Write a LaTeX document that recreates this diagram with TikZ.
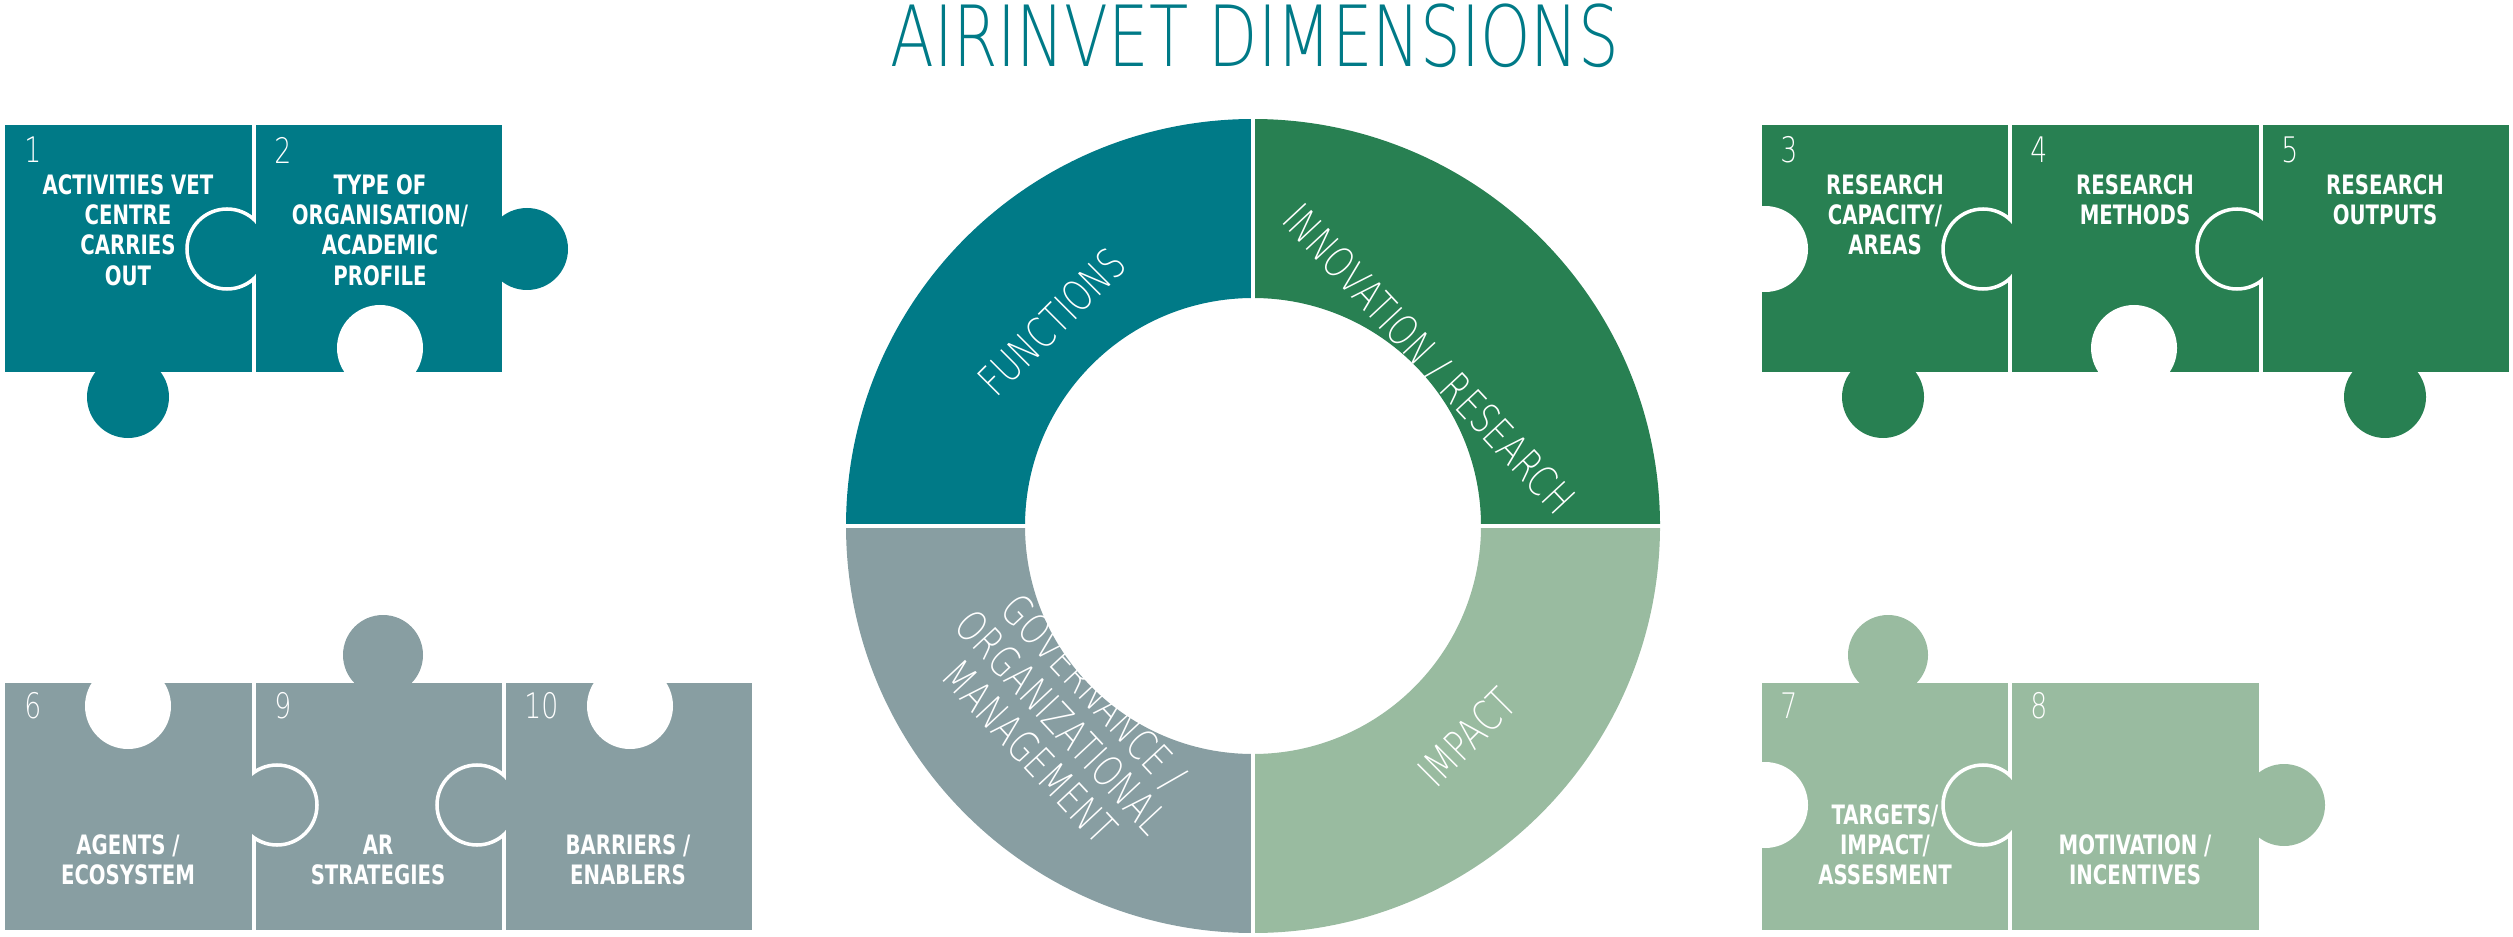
\documentclass[tikz,border=0pt]{standalone}
\usepackage{fontspec}
\setmainfont{DejaVu Sans}
\newfontfamily\lblfont[FakeStretch=0.82]{DejaVu Sans Condensed Bold}
\newfontfamily\thinfont[FakeStretch=0.76]{DejaVu Sans ExtraLight}
\definecolor{teal}{RGB}{0,122,135}
\definecolor{dgreen}{RGB}{40,128,82}
\definecolor{lgreen}{RGB}{153,187,160}
\definecolor{slate}{RGB}{136,158,162}
\tikzset{
  lbl/.style={text=white,align=center,font=\lblfont\fontsize{7.6}{8.6}\selectfont},
  num/.style={text=white,anchor=west,font=\thinfont\fontsize{10}{10}\selectfont},
  ringlbl/.style={text=white,align=center,font=\thinfont\fontsize{12}{12.5}\selectfont},
  seam/.style={draw=white,line width=1pt}
}
\begin{document}
\begin{tikzpicture}[x=0.01cm,y=-0.01cm]
\useasboundingbox (0,0) rectangle (2513,937);
\node[text=teal,font=\thinfont\fontsize{24}{24}\selectfont] (title) at (1255,36) {AIRINVET DIMENSIONS};
% ring
\fill[teal] (846,526) arc[start angle=180,end angle=270,radius=407] -- (1253,298) arc[start angle=270,end angle=180,radius=228] -- cycle;
\fill[dgreen] (1253,119) arc[start angle=270,end angle=360,radius=407] -- (1481,526) arc[start angle=360,end angle=270,radius=228] -- cycle;
\fill[lgreen] (1660,526) arc[start angle=0,end angle=90,radius=407] -- (1253,754) arc[start angle=90,end angle=0,radius=228] -- cycle;
\fill[slate] (1253,933) arc[start angle=90,end angle=180,radius=407] -- (1025,526) arc[start angle=180,end angle=90,radius=228] -- cycle;
\draw[white,line width=1.2pt] (840,526) -- (1666,526);
\draw[white,line width=1.2pt] (1253,113) -- (1253,939);
\node[ringlbl,rotate=45] (func) at (1052,322) {FUNCTIONS};
\node[ringlbl,rotate=-47] (innov) at (1428,360) {INNOVATION / RESEARCH};
\node[ringlbl,rotate=45] (impact) at (1467,737) {IMPACT};
\node[ringlbl,rotate=-47] (gov) at (1062,722) {GOVERNANCE /\\ORGANIZATIONAL\\MANAGEMENT};
% top left pieces
\fill[teal] (5,125) rectangle (252,372);
\fill[teal] (128,397) circle (41);
\fill[teal,seam] (227,249) circle (40);
\fill[teal] (256,125) rectangle (502,372);
\fill[teal] (527,249) circle (41);
\fill[white] (380,348) circle (43);
\node[num] (n1) at (12,150) {1};
\node[num] (n2) at (262,150) {2};
\node[lbl] (l1) at (128,230) {ACTIVITIES VET\\CENTRE\\CARRIES\\OUT};
\node[lbl] (l2) at (380,230) {TYPE OF\\ORGANISATION/\\ACADEMIC\\PROFILE};
% top right pieces
\fill[dgreen] (1762,125) rectangle (2008,372);
\fill[white] (1765,249) circle (43);
\fill[dgreen] (1883,397) circle (41);
\fill[dgreen,seam] (1983,249) circle (40);
\fill[dgreen] (2012,125) rectangle (2259,372);
\fill[white] (2134,348) circle (43);
\fill[dgreen,seam] (2237,249) circle (40);
\fill[dgreen] (2263,125) rectangle (2509,372);
\fill[dgreen] (2385,397) circle (41);
\node[num] (n3) at (1768,150) {3};
\node[num] (n4) at (2018,150) {4};
\node[num] (n5) at (2269,150) {5};
\node[lbl] (l3) at (1885,215) {RESEARCH\\CAPACITY/\\AREAS};
\node[lbl] (l4) at (2135,200) {RESEARCH\\METHODS};
\node[lbl] (l5) at (2385,200) {RESEARCH\\OUTPUTS};
% bottom left pieces
\fill[slate] (256,683) rectangle (502,930);
\fill[slate,seam] (277,805) circle (40);
\fill[slate] (5,683) rectangle (252,930);
\fill[white] (128,706) circle (43);
\fill[slate,seam] (477,805) circle (40);
\fill[slate] (506,683) rectangle (752,930);
\fill[white] (630,706) circle (43);
\fill[slate] (383,655) circle (40);
\node[num] (n6) at (12,706) {6};
\node[num] (n9) at (262,706) {9};
\node[num] (n10) at (512,706) {10};
\node[lbl] (l6) at (128,860) {AGENTS /\\ECOSYSTEM};
\node[lbl] (l9) at (378,860) {AR\\STRATEGIES};
\node[lbl] (l10) at (628,860) {BARRIERS /\\ENABLERS};
% bottom right pieces
\fill[lgreen] (1762,683) rectangle (2008,930);
\fill[white] (1765,805) circle (43);
\fill[lgreen] (1888,655) circle (40);
\fill[lgreen,seam] (1983,805) circle (40);
\fill[lgreen] (2012,683) rectangle (2259,930);
\fill[lgreen] (2284,805) circle (41);
\node[num] (n7) at (1768,706) {7};
\node[num] (n8) at (2018,706) {8};
\node[lbl] (l7) at (1885,845) {TARGETS/\\IMPACT/\\ASSESMENT};
\node[lbl] (l8) at (2135,860) {MOTIVATION /\\INCENTIVES};
\end{tikzpicture}
\end{document}
